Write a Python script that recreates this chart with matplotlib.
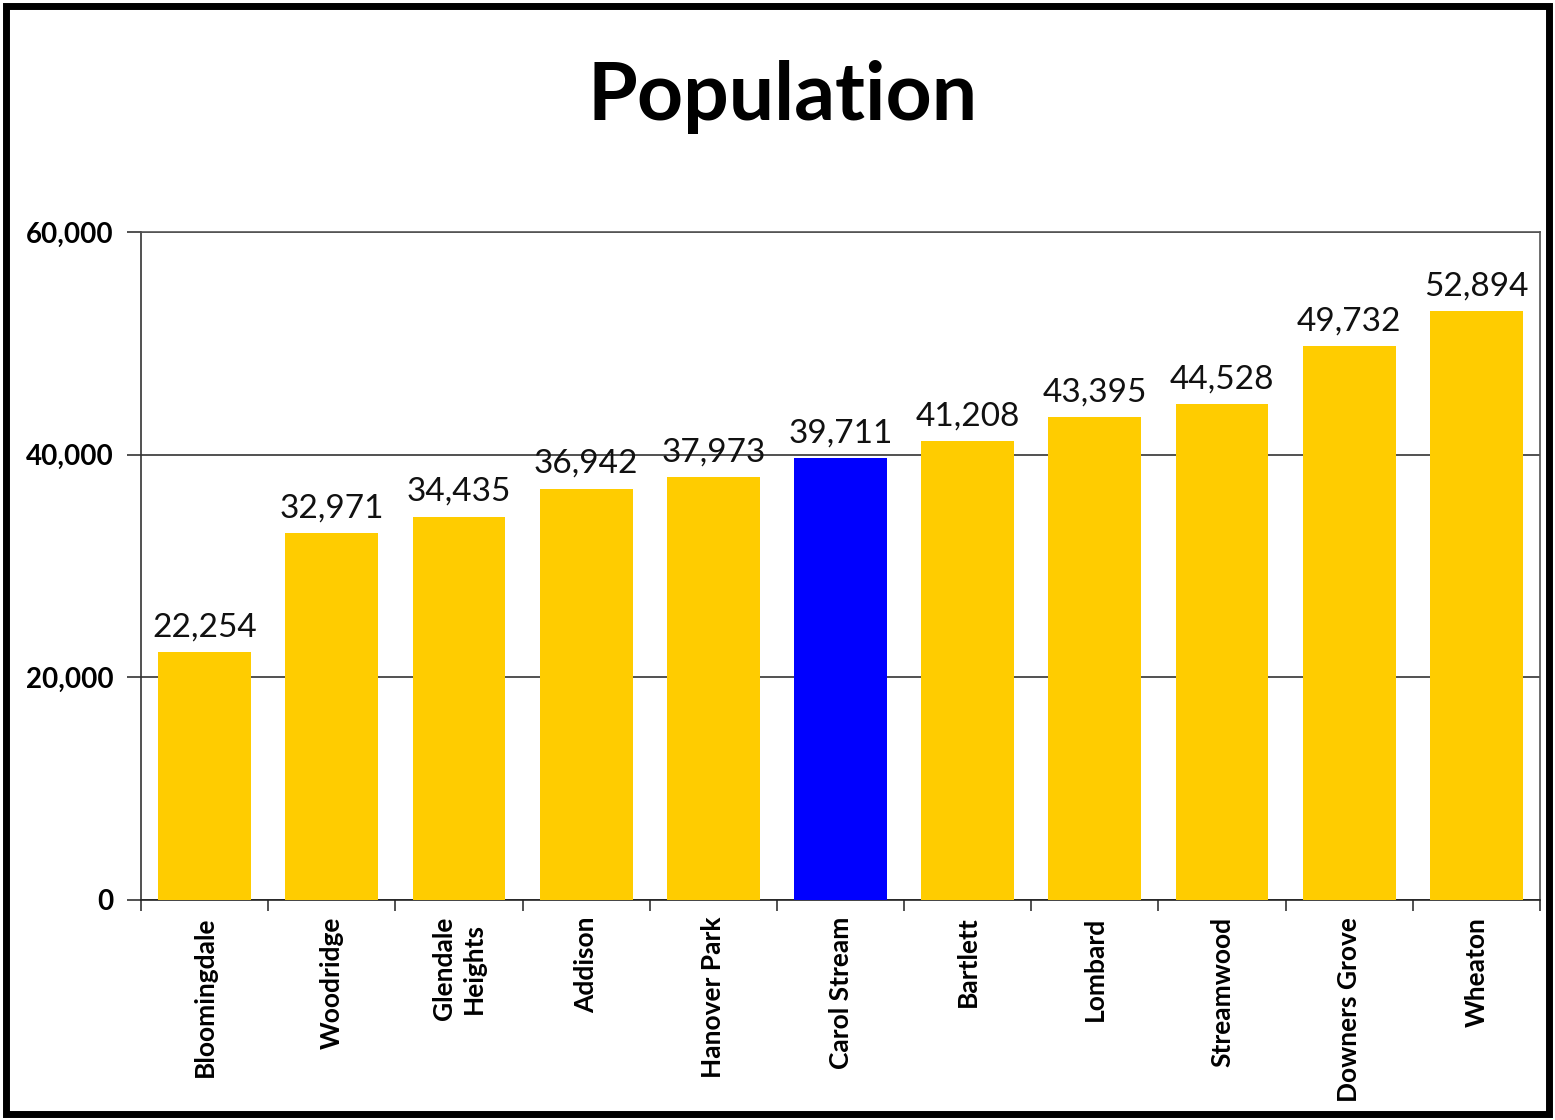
import matplotlib
matplotlib.use("Agg")
import matplotlib.pyplot as plt
from matplotlib.patches import Rectangle
from matplotlib.ticker import FuncFormatter

categories = ["Bloomingdale", "Woodridge", "Glendale\nHeights", "Addison", "Hanover Park",
              "Carol Stream", "Bartlett", "Lombard", "Streamwood", "Downers Grove", "Wheaton"]
population = [22254, 32971, 34435, 36942, 37973, 39711, 41208, 43395, 44528, 49732, 52894]
highlight = "Carol Stream"
yticks = [0, 20000, 40000, 60000]

plt.rcParams['font.family'] = ['Lato', 'DejaVu Sans']

W, H = 1555, 1120
fig = plt.figure(figsize=(W / 100, H / 100), dpi=100)
ax = fig.add_axes([141 / W, 1 - 900 / H, (1540 - 141) / W, (900 - 232) / H])

colors = ["#0000FF" if c == highlight else "#FFCC00" for c in categories]
x = list(range(len(categories)))
bars = ax.bar(x, population, width=0.73, color=colors, zorder=3)
ax.set_xlim(-0.5, len(categories) - 0.5)
ax.set_ylim(0, 60000)
ax.set_yticks(yticks)
ax.yaxis.set_major_formatter(FuncFormatter(lambda v, p: f"{int(v):,}"))
ax.grid(axis='y', color='#333333', linewidth=1.2, zorder=0)

for b, v in zip(bars, population):
    ax.annotate(f"{v:,}", (b.get_x() + b.get_width() / 2, v), xytext=(0, 7),
                textcoords='offset points', ha='center', va='bottom', fontsize=24, color='#111111')

ax.set_xticks([i - 0.5 for i in range(len(categories) + 1)], minor=False)
ax.set_xticklabels([])
ax.set_xticks(x, minor=True)
ax.set_xticklabels(categories, minor=True, rotation=90, fontsize=19, fontweight='bold',
                   ha='center', va='top', multialignment='center', linespacing=1.3)
ax.tick_params(axis='x', which='minor', length=0, pad=12)
ax.tick_params(axis='x', which='major', length=8, width=1.2, color='#333333', direction='out')
ax.tick_params(axis='y', length=10, width=1.2, color='#333333', labelsize=20, pad=10)
for lbl in ax.get_yticklabels():
    lbl.set_fontweight('bold')

for s in ax.spines.values():
    s.set_color('#555555')
    s.set_linewidth(1.2)
ax.spines['left'].set_color('#333333')
ax.spines['bottom'].set_color('#222222')

fig.text(783 / W, 1 - 97 / H, "Population", ha='center', va='center', fontsize=58, fontweight='bold')

fig.patches.append(Rectangle((6 / W, 6 / H), 1 - 12 / W, 1 - 12 / H, transform=fig.transFigure,
                             fill=False, edgecolor='black', linewidth=5))

fig.savefig("out.png", dpi=100, facecolor='white')
